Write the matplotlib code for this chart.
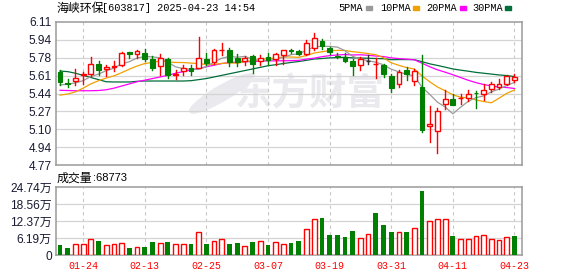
import numpy as np
import matplotlib
matplotlib.use('Agg')
import matplotlib.pyplot as plt
from matplotlib.patches import Rectangle, Ellipse

# ---- data ----
dates = ['01-21', '01-22', '01-23', '01-24', '01-27',
         '02-05', '02-06', '02-07', '02-10', '02-11', '02-12', '02-13', '02-14',
         '02-17', '02-18', '02-19', '02-20', '02-21', '02-24', '02-25', '02-26',
         '02-27', '02-28',
         '03-03', '03-04', '03-05', '03-06', '03-07', '03-10', '03-11', '03-12',
         '03-13', '03-14', '03-17', '03-18', '03-19', '03-20', '03-21', '03-24',
         '03-25', '03-26', '03-27', '03-28', '03-31',
         '04-01', '04-02', '04-03', '04-07', '04-08', '04-09', '04-10', '04-11',
         '04-14', '04-15', '04-16', '04-17', '04-18', '04-21', '04-22', '04-23']

opens = [5.641, 5.54, 5.557, 5.613, 5.623, 5.716, 5.666, 5.69, 5.704, 5.826,
         5.807, 5.816, 5.76, 5.694, 5.76, 5.613, 5.651, 5.682, 5.682, 5.763,
         5.732, 5.845, 5.845, 5.773, 5.741, 5.788, 5.741, 5.779, 5.763, 5.798,
         5.848, 5.835, 5.813, 5.866, 5.932, 5.87, 5.79, 5.785, 5.745, 5.704,
         5.745, 5.713, 5.704, 5.607, 5.526, 5.663, 5.554, 5.501, 5.132, 5.085,
         5.338, 5.391, 5.395, 5.398, 5.448, 5.438, 5.485, 5.501, 5.532, 5.563]
closes = [5.548, 5.53, 5.582, 5.62, 5.713, 5.663, 5.691, 5.70, 5.823, 5.813,
          5.835, 5.766, 5.682, 5.773, 5.61, 5.62, 5.682, 5.648, 5.773, 5.729,
          5.848, 5.85, 5.738, 5.735, 5.77, 5.713, 5.77, 5.751, 5.807, 5.848,
          5.842, 5.813, 5.913, 5.963, 5.885, 5.829, 5.785, 5.745, 5.695, 5.766,
          5.745, 5.716, 5.626, 5.491, 5.641, 5.62, 5.648, 5.095, 5.154, 5.276,
          5.391, 5.335, 5.40, 5.435, 5.445, 5.47, 5.526, 5.532, 5.601, 5.591]
highs = [5.657, 5.573, 5.666, 5.641, 5.785, 5.741, 5.704, 5.741, 5.829, 5.829,
         5.848, 5.854, 5.791, 5.81, 5.776, 5.657, 5.704, 5.71, 5.969, 5.82,
         5.86, 5.913, 5.87, 5.813, 5.788, 5.798, 5.798, 5.823, 5.82, 5.848,
         5.86, 5.845, 5.944, 6.007, 5.954, 5.876, 5.82, 5.823, 5.766, 5.782,
         5.798, 5.77, 5.72, 5.626, 5.657, 5.688, 5.673, 5.804, 5.323, 5.304,
         5.47, 5.438, 5.438, 5.47, 5.466, 5.532, 5.548, 5.576, 5.616, 5.62]
lows = [5.516, 5.498, 5.516, 5.532, 5.601, 5.61, 5.604, 5.654, 5.694, 5.776,
        5.776, 5.741, 5.663, 5.616, 5.588, 5.579, 5.61, 5.61, 5.675, 5.704,
        5.72, 5.804, 5.695, 5.695, 5.704, 5.632, 5.704, 5.704, 5.704, 5.72,
        5.823, 5.798, 5.798, 5.851, 5.86, 5.807, 5.773, 5.735, 5.61, 5.657,
        5.72, 5.582, 5.595, 5.454, 5.501, 5.563, 5.523, 5.079, 4.985, 4.885,
        5.292, 5.329, 5.345, 5.366, 5.304, 5.376, 5.454, 5.485, 5.516, 5.548]

ma5 = [5.52, 5.527, 5.54, 5.56, 5.599, 5.622, 5.654, 5.677, 5.718, 5.738,
       5.772, 5.787, 5.784, 5.774, 5.733, 5.690, 5.673, 5.667, 5.667, 5.690,
       5.736, 5.770, 5.788, 5.780, 5.788, 5.761, 5.745, 5.748, 5.762, 5.778,
       5.804, 5.812, 5.845, 5.876, 5.883, 5.881, 5.875, 5.841, 5.788, 5.764,
       5.747, 5.733, 5.709, 5.668, 5.643, 5.619, 5.605, 5.499, 5.432, 5.359,
       5.313, 5.250, 5.311, 5.367, 5.401, 5.417, 5.455, 5.482, 5.515, 5.544]
ma10 = [5.425, 5.435, 5.455, 5.49, 5.53, 5.56, 5.585, 5.605, 5.635, 5.668,
        5.697, 5.721, 5.731, 5.746, 5.736, 5.731, 5.730, 5.725, 5.720, 5.712,
        5.713, 5.722, 5.727, 5.723, 5.739, 5.749, 5.757, 5.768, 5.771, 5.783,
        5.782, 5.779, 5.796, 5.819, 5.831, 5.842, 5.844, 5.843, 5.832, 5.824,
        5.814, 5.804, 5.775, 5.728, 5.704, 5.683, 5.669, 5.604, 5.550, 5.501,
        5.466, 5.428, 5.405, 5.400, 5.380, 5.365, 5.353, 5.396, 5.441, 5.473]
ma20 = [5.47, 5.468, 5.466, 5.466, 5.466, 5.468, 5.475, 5.49, 5.51, 5.53,
        5.55, 5.565, 5.58, 5.595, 5.61, 5.63, 5.645, 5.66, 5.675, 5.690,
        5.705, 5.721, 5.729, 5.735, 5.737, 5.740, 5.744, 5.746, 5.746, 5.747,
        5.748, 5.750, 5.762, 5.771, 5.785, 5.795, 5.801, 5.805, 5.801, 5.803,
        5.798, 5.791, 5.786, 5.774, 5.767, 5.762, 5.756, 5.724, 5.691, 5.662,
        5.640, 5.616, 5.590, 5.564, 5.542, 5.524, 5.511, 5.500, 5.496, 5.487]
ma30 = [5.65, 5.645, 5.63, 5.61, 5.59, 5.57, 5.55, 5.548, 5.548, 5.548,
        5.554, 5.557, 5.557, 5.557, 5.557, 5.557, 5.557, 5.56, 5.57, 5.58,
        5.595, 5.61, 5.625, 5.64, 5.655, 5.67, 5.685, 5.70, 5.71, 5.721,
        5.731, 5.740, 5.751, 5.763, 5.768, 5.774, 5.777, 5.779, 5.774, 5.773,
        5.770, 5.768, 5.766, 5.757, 5.758, 5.758, 5.757, 5.738, 5.718, 5.703,
        5.687, 5.670, 5.659, 5.649, 5.638, 5.630, 5.622, 5.614, 5.608, 5.599]

volumes = [36380, 25470, 38800, 38800, 57000, 50930, 36380, 38800, 42440, 25470,
           29100, 29100, 46080, 42440, 46080, 38800, 38800, 40020, 82460, 40020,
           49720, 57000, 40020, 42440, 32740, 46080, 49720, 36380, 46080, 38800,
           43000, 50930, 94590, 130970, 135820, 72760, 72760, 66700, 87310, 61850,
           76400, 152800, 109140, 83680, 83680, 83680, 98230, 234050, 123690, 130970,
           130970, 70340, 58210, 58210, 69120, 72760, 58210, 53360, 65490, 68773]
vol_up = [0, 0, 1, 1, 1, 0, 1, 1, 1, 0, 1, 0, 0, 1, 0, 1, 1, 0, 1, 0,
          1, 1, 0, 0, 1, 0, 1, 0, 1, 1, 0, 0, 1, 1, 0, 0, 0, 0, 0, 1,
          1, 0, 0, 0, 1, 0, 1, 0, 1, 1, 1, 0, 1, 1, 1, 1, 1, 1, 1, 0]

price_labels = ['4.77', '4.94', '5.10', '5.27', '5.44', '5.61', '5.78', '5.94', '6.11']
price_min, price_max = 4.77, 6.11
vol_labels = ['0', '6.19万', '12.37万', '18.56万', '24.74万']
vol_max = 247400
date_labels = ['01-24', '02-13', '02-25', '03-07', '03-19', '03-31', '04-11', '04-23']

title_name = '海峡环保'
title_rest = '[603817] 2025-04-23 14:54'
ma_names = ['5PMA', '10PMA', '20PMA', '30PMA']

# ---- style ----
RED = '#ff0000'
GREEN = '#008000'
MA_COLORS = ['#9a9a9a', '#f0a000', '#ff00ff', '#006e3a']
FRAME = '#9a9a9a'
GRID = '#d4d4d4'
TXT = '#1a1a33'
CJK = ['Noto Sans CJK SC', 'DejaVu Sans']
NUM = ['Liberation Sans', 'Noto Sans CJK SC']
MONO = ['Liberation Mono', 'DejaVu Sans Mono']

W, H = 578, 276
fig = plt.figure(figsize=(W / 100, H / 100), dpi=100)


def px_axes(x0, y0, x1, y1):
    return fig.add_axes([x0 / W, 1 - y1 / H, (x1 - x0) / W, (y1 - y0) / H])


ax = px_axes(56, 22, 522, 165)
axv = px_axes(56, 187, 522, 255)

n = len(dates)
x = np.arange(n)
xticks = [dates.index(d) for d in date_labels]
bw = 0.62

for a in (ax, axv):
    a.set_xlim(-0.52, n - 0.02)
    for s in a.spines.values():
        s.set_color(FRAME)
        s.set_linewidth(1.1)
    a.tick_params(length=0, colors=TXT)
    for xt in xticks:
        a.axvline(xt, color='#c8c8c8', lw=0.8, ls=(0, (3, 3)), zorder=1)

# price panel
ax.set_ylim(price_min, price_max)
yt = np.linspace(price_min, price_max, len(price_labels))
ax.set_yticks(yt, price_labels, fontsize=8.6, family=NUM)
for v in yt[1:-1]:
    ax.axhline(v, color=GRID, lw=0.9, zorder=1)
ax.set_xticks([])
ax.tick_params(axis='y', pad=3)

# watermark
ax.text(0.545, 0.50, '东方财富', transform=ax.transAxes, fontsize=27,
        fontweight='bold', family=CJK, color='#e9e9ee', ha='center',
        va='center', zorder=0.5)
ax.add_patch(Ellipse((0.355, 0.50), 0.055, 0.30, angle=-25,
                     transform=ax.transAxes, color='#e9e9ee', zorder=0.5))

for i in x:
    o, c, h, l = opens[i], closes[i], highs[i], lows[i]
    top, bot = max(o, c), min(o, c)
    if c > o:
        col = RED
    elif c < o:
        col = GREEN
    else:
        col = '#333333'
    if c >= o:
        ax.plot([i, i], [top, h], color=col, lw=1.0, zorder=3)
        ax.plot([i, i], [l, bot], color=col, lw=1.0, zorder=3)
        ax.add_patch(Rectangle((i - bw / 2, bot), bw, max(top - bot, 0.002),
                               facecolor='white', edgecolor=col, lw=1.0, zorder=4))
    else:
        ax.plot([i, i], [l, h], color=col, lw=1.0, zorder=3)
        ax.add_patch(Rectangle((i - bw / 2, bot), bw, max(top - bot, 0.002),
                               facecolor=col, edgecolor=col, lw=0.8, zorder=4))

for ma, col in zip([ma30, ma20, ma10, ma5], MA_COLORS[::-1]):
    ax.plot(x, ma, color=col, lw=0.9, zorder=2)

# volume panel
axv.set_ylim(0, vol_max)
vt = np.linspace(0, vol_max, len(vol_labels))
axv.set_yticks(vt, vol_labels, fontsize=8.6, family=NUM)
for v in vt[1:-1]:
    axv.axhline(v, color=GRID, lw=0.9, zorder=1)
axv.tick_params(axis='y', pad=3)
for i in x:
    if vol_up[i]:
        axv.bar(i, volumes[i], width=bw, facecolor='white', edgecolor=RED,
                lw=1.0, zorder=3)
    else:
        axv.bar(i, volumes[i], width=bw, color=GREEN, zorder=3)
axv.set_xticks(xticks, date_labels, fontsize=7.2, family=MONO, color=RED)
axv.tick_params(axis='x', pad=4, colors=RED)

# header texts
fig.text(56 / W, 1 - 8 / H, title_name, fontsize=8.6, family=CJK, color='black',
         va='center', ha='left')
fig.text(102 / W, 1 - 8 / H, title_rest, fontsize=7.4, family=MONO, color='black',
         va='center', ha='left')

leg_x = [338, 380, 426, 472]
sq_x = [366, 413, 460, 505]
for name, lx, sx, col in zip(ma_names, leg_x, sq_x, MA_COLORS):
    fig.text(lx / W, 1 - 8 / H, name, fontsize=7.4, family=MONO, color='black',
             va='center', ha='left')
    fig.patches.append(Rectangle((sx / W, 1 - 10 / H), 6 / W, 4 / H,
                                 transform=fig.transFigure, color=col))

fig.text(57 / W, 1 - 178 / H, '成交量', fontsize=8.6, family=CJK, color='black',
         va='center', ha='left')
fig.text(93 / W, 1 - 178 / H, ':' + str(volumes[-1]), fontsize=8.0, family=NUM,
         color='black', va='center', ha='left')

fig.savefig('out.png', dpi=100, facecolor='white')
